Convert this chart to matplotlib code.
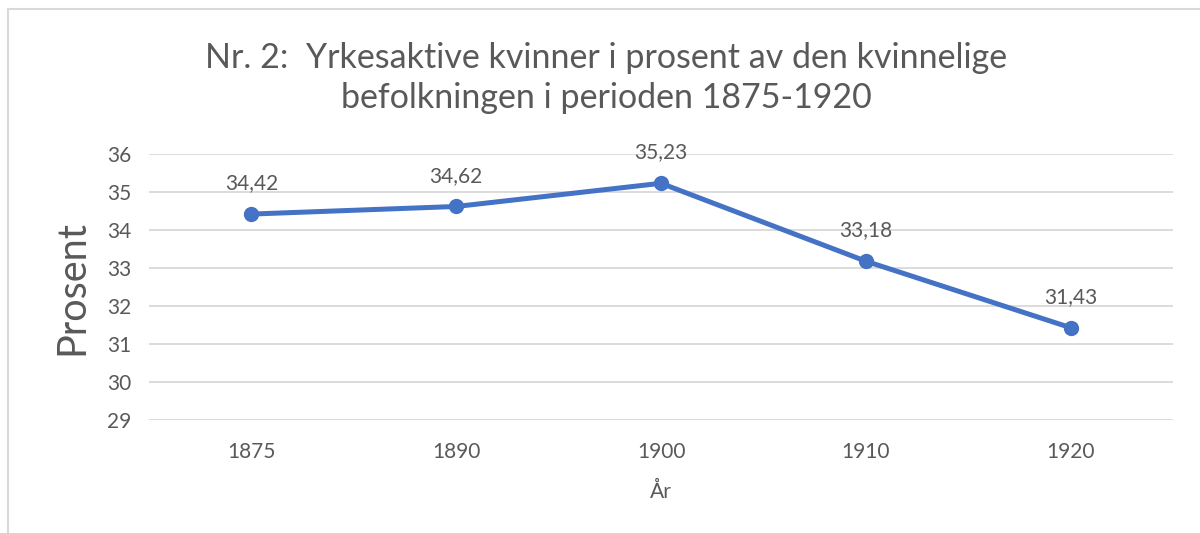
import matplotlib

matplotlib.use("Agg")
import matplotlib.pyplot as plt
from matplotlib.patches import Rectangle

# ── Data ────────────────────────────────────────────────────────────────────
years = ["1875", "1890", "1900", "1910", "1920"]
percent = [34.42, 34.62, 35.23, 33.18, 31.43]
y_ticks = [29, 30, 31, 32, 33, 34, 35, 36]

title = "Nr. 2:  Yrkesaktive kvinner i prosent av den kvinnelige\nbefolkningen i perioden 1875-1920"

TEXT = "#595959"
GRID = "#D9D9D9"
BLUE = "#4472C4"

plt.rcParams["font.family"] = ["Lato", "DejaVu Sans"]

fig = plt.figure(figsize=(12, 5.33), dpi=100)
ax = fig.add_axes([0.1242, 0.212, 0.8533, 0.499])

x = list(range(len(years)))
ax.plot(x, percent, color=BLUE, linewidth=3.6, marker="o", markersize=10,
        solid_capstyle="round", zorder=3)
for xi, v in zip(x, percent):
    ax.annotate(f"{v:.2f}".replace(".", ","), (xi, v), xytext=(0, 15),
                textcoords="offset points", ha="center", va="bottom",
                fontsize=15, color=TEXT)

ax.set_xlim(-0.5, len(years) - 0.5)
ax.set_ylim(29, 36)
ax.set_yticks(y_ticks)
ax.set_xticks(x)
ax.set_xticklabels(years)
ax.yaxis.grid(True, color=GRID, linewidth=1.3)
ax.set_axisbelow(True)
ax.tick_params(axis="both", length=0, labelsize=15, labelcolor=TEXT)
ax.tick_params(axis="x", pad=16)
ax.tick_params(axis="y", pad=13)
for s in ax.spines.values():
    s.set_visible(False)

ax.set_xlabel("År", fontsize=15, color=TEXT, labelpad=14)
ax.set_ylabel("Prosent", fontsize=28.5, color=TEXT, labelpad=12)

fig.text(0.505, 0.853, title, ha="center", va="center", fontsize=24.5,
         color=TEXT, linespacing=1.3)

# chart-area border (cropped at right and bottom in the original)
fig.patches.append(Rectangle((8 / 1200, -0.1), 1.2, 1 - 9 / 533 + 0.1,
                             transform=fig.transFigure, fill=False,
                             edgecolor=GRID, linewidth=1.5))

fig.savefig("out.png", dpi=100)
